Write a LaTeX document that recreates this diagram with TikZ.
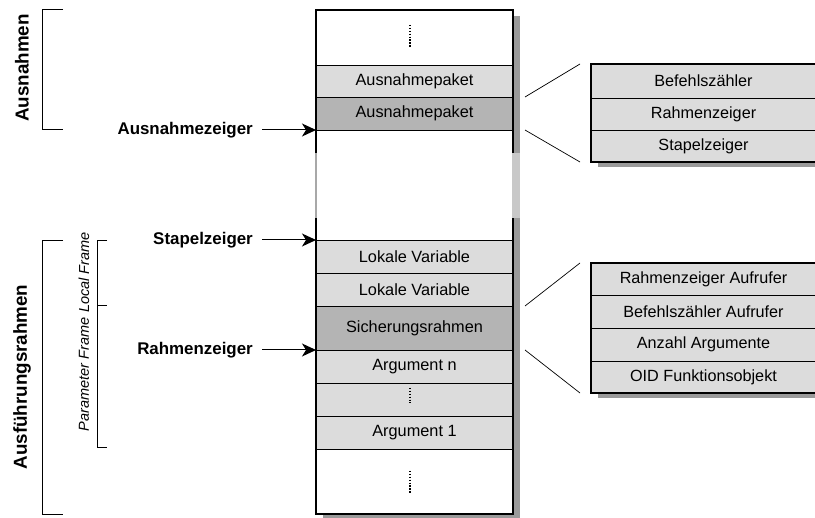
\documentclass[tikz,border=0pt]{standalone}
\usepackage{fontspec}
\setmainfont{Liberation Sans}
\usetikzlibrary{arrows.meta,calc}
\definecolor{cellL}{HTML}{DCDCDC}
\definecolor{cellD}{HTML}{B4B4B4}
\definecolor{shad}{HTML}{9A9A9A}
\definecolor{shadL}{HTML}{C8C8C8}
\definecolor{gapL}{HTML}{A8A8A8}
\begin{document}
\begin{tikzpicture}[x=1pt,y=-1pt,
  cell/.style={draw=black,line width=0.9pt,minimum width=197pt,inner sep=0pt,outer sep=0pt,font=\fontsize{16.3}{19}\selectfont},
  rcell/.style={draw=black,line width=0.9pt,fill=cellL,minimum width=225pt,inner sep=0pt,outer sep=0pt,font=\fontsize{16.2}{19}\selectfont},
  ptr/.style={anchor=east,inner sep=0pt,font=\fontsize{16.9}{20}\selectfont\bfseries},
  big/.style={rotate=90,inner sep=0pt,font=\fontsize{18.8}{22}\selectfont\bfseries},
  small/.style={rotate=90,inner sep=0pt,font=\fontsize{14.5}{18}\selectfont\itshape},
  brack/.style={line width=1pt},
  parrow/.style={line width=1pt,-{Stealth[length=14pt,width=13pt,inset=4pt]}},
  zoomline/.style={line width=0.7pt},
  dotl/.style={line width=1.3pt,dash pattern=on 1.3pt off 1.6pt}
]
\useasboundingbox (0,0) rectangle (815,518);

% main stack shadow and body
\fill[shad] (323,16) rectangle (520,519);
\fill[white] (316,10) rectangle (513,514);
\fill[shadL] (512,153) rectangle (520,218);

% cells
\node[cell,fill=white,minimum height=55pt] (top) at (414.5,37.5) {};
\node[cell,fill=cellL,minimum height=32pt] (aus1) at (414.5,81) {Ausnahmepaket};
\node[cell,fill=cellD,minimum height=33pt] (aus2) at (414.5,113.5) {Ausnahmepaket};
\node[cell,fill=cellL,minimum height=33pt] (lv1) at (414.5,256.5) {Lokale Variable};
\node[cell,fill=cellL,minimum height=33pt] (lv2) at (414.5,289.5) {Lokale Variable};
\node[cell,fill=cellD,minimum height=44pt] (sich) at (414.5,328) {Sicherungsrahmen};
\node[cell,fill=cellL,minimum height=33pt] (argn) at (414.5,366.5) {Argument n};
\node[cell,fill=cellL,minimum height=33pt] (argd) at (414.5,399.5) {};
\node[cell,fill=cellL,minimum height=33pt] (arg1) at (414.5,432.5) {Argument 1};
\node[cell,fill=white,minimum height=65pt] (bot) at (414.5,481.5) {};

% dots
\draw[dotl] (410,25) -- (410,48);
\draw[dotl] (410,388) -- (410,403);
\draw[dotl] (410,471) -- (410,494);

% stack outline
\draw[line width=1.2pt] (316,153) -- (316,10) -- (513,10) -- (513,153);
\draw[line width=1.2pt] (316,218) -- (316,514) -- (513,514) -- (513,218);
\draw[gapL,line width=1.2pt] (316,153) -- (316,218);

% pointers
\coordinate (pA) at (316,130);
\coordinate (pS) at (316,240);
\coordinate (pR) at (316,350);
\node[ptr] (lA) at (253,130) {Ausnahmezeiger};
\node[ptr] (lS) at (253,240) {Stapelzeiger};
\node[ptr] (lR) at (253,350) {Rahmenzeiger};
\draw[parrow] ($(lA.east)+(9,0)$) -- (pA);
\draw[parrow] ($(lS.east)+(9,0)$) -- (pS);
\draw[parrow] ($(lR.east)+(9,0)$) -- (pR);

% brackets
\draw[brack] (63,10) -- (42,10) -- (42,130) -- (63,130);
\draw[brack] (63,241) -- (42,241) -- (42,515) -- (63,515);
\draw[brack] (107,241) -- (97,241) -- (97,448) -- (107,448);
\draw[brack] (97,306) -- (107,306);
\node[big] (ausn) at (22,68) {Ausnahmen};
\node[big] (ausf) at (22,377) {Ausführungsrahmen};
\node[small] (lf) at (84,272.5) {Local Frame};
\node[small] (pf) at (84,374.5) {Parameter Frame};

% right box 1
\fill[shad] (598,69) rectangle (830,167);
\node[rcell,minimum height=34pt] (b1) at (703.5,81) {Befehlszähler};
\node[rcell,minimum height=32pt] (b2) at (703.5,114) {Rahmenzeiger};
\node[rcell,minimum height=32pt] (b3) at (703.5,146) {Stapelzeiger};
\draw[line width=1.2pt] (b3.south east) -- (b3.south west) -- (b1.north west) -- (b1.north east);

% right box 2
\fill[shad] (598,268) rectangle (830,398);
\node[rcell,minimum height=32pt] (c1) at (703.5,279) {Rahmenzeiger Aufrufer};
\node[rcell,minimum height=33pt] (c2) at (703.5,311.5) {Befehlszähler Aufrufer};
\node[rcell,minimum height=33pt] (c3) at (703.5,344.5) {Anzahl Argumente};
\node[rcell,minimum height=32pt] (c4) at (703.5,377) {OID Funktionsobjekt};
\draw[line width=1.2pt] (c4.south east) -- (c4.south west) -- (c1.north west) -- (c1.north east);

% zoom lines
\draw[zoomline] ($(aus2.north east)+(12,0)$) -- ($(b1.north west)+(-11,0)$);
\draw[zoomline] ($(aus2.south east)+(12,0)$) -- ($(b3.south west)+(-11,0)$);
\draw[zoomline] ($(sich.north east)+(12,0)$) -- ($(c1.north west)+(-11,0)$);
\draw[zoomline] ($(sich.south east)+(12,0)$) -- ($(c4.south west)+(-11,0)$);
\end{tikzpicture}
\end{document}
